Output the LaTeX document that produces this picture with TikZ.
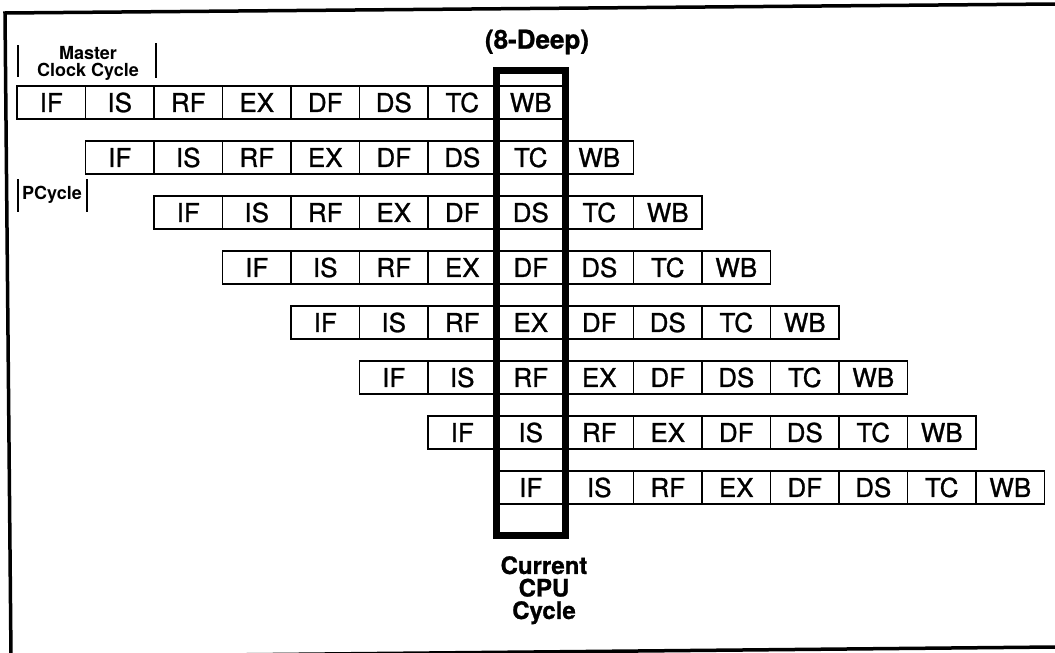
\documentclass[tikz,border=0pt]{standalone}
\usepackage{fontspec}
\setsansfont{TeX Gyre Heros}
\newfontfamily\stagefont[FakeBold=1]{TeX Gyre Heros}

\begin{document}
\begin{tikzpicture}[x=1pt,y=1pt]
\tikzset{
  cellbox/.style={rectangle,draw=black,line width=1.8pt,minimum width=68.5pt,minimum height=33pt,inner sep=0pt,font=\stagefont\fontsize{26}{26}\selectfont},
  cpuwindow/.style={rectangle,draw=black,line width=7pt,minimum width=68.5pt,minimum height=464.5pt,inner sep=0pt},
  headlabel/.style={inner sep=0pt,font=\stagefont\bfseries\fontsize{26}{26}\selectfont},
  footlabel/.style={inner sep=0pt,align=center,font=\stagefont\bfseries\fontsize{24}{22.5}\selectfont},
  smalllabel/.style={inner sep=0pt,align=center,font=\sffamily\bfseries\fontsize{18}{17}\selectfont},
  tickbar/.style={draw=black,line width=2pt},
  frameline/.style={draw=black,line width=3.5pt,line join=miter}
}
\useasboundingbox (0,0) rectangle (1055,-653);
\draw[frameline] (1055,-4) -- (5,-13) -- (11,-657) -- (1055,-647);
% row 1
\node[cellbox] (n_1IF) at (51.25,-102.5) {IF};
\node[cellbox] (n_1IS) at (119.75,-102.5) {IS};
\node[cellbox] (n_1RF) at (188.25,-102.5) {RF};
\node[cellbox] (n_1EX) at (256.75,-102.5) {EX};
\node[cellbox] (n_1DF) at (325.25,-102.5) {DF};
\node[cellbox] (n_1DS) at (393.75,-102.5) {DS};
\node[cellbox] (n_1TC) at (462.25,-102.5) {TC};
\node[cellbox] (n_1WB) at (530.75,-102.5) {WB};
% row 2
\node[cellbox] (n_2IF) at (119.75,-157.5) {IF};
\node[cellbox] (n_2IS) at (188.25,-157.5) {IS};
\node[cellbox] (n_2RF) at (256.75,-157.5) {RF};
\node[cellbox] (n_2EX) at (325.25,-157.5) {EX};
\node[cellbox] (n_2DF) at (393.75,-157.5) {DF};
\node[cellbox] (n_2DS) at (462.25,-157.5) {DS};
\node[cellbox] (n_2TC) at (530.75,-157.5) {TC};
\node[cellbox] (n_2WB) at (599.25,-157.5) {WB};
% row 3
\node[cellbox] (n_3IF) at (188.25,-212.5) {IF};
\node[cellbox] (n_3IS) at (256.75,-212.5) {IS};
\node[cellbox] (n_3RF) at (325.25,-212.5) {RF};
\node[cellbox] (n_3EX) at (393.75,-212.5) {EX};
\node[cellbox] (n_3DF) at (462.25,-212.5) {DF};
\node[cellbox] (n_3DS) at (530.75,-212.5) {DS};
\node[cellbox] (n_3TC) at (599.25,-212.5) {TC};
\node[cellbox] (n_3WB) at (667.75,-212.5) {WB};
% row 4
\node[cellbox] (n_4IF) at (256.75,-267.5) {IF};
\node[cellbox] (n_4IS) at (325.25,-267.5) {IS};
\node[cellbox] (n_4RF) at (393.75,-267.5) {RF};
\node[cellbox] (n_4EX) at (462.25,-267.5) {EX};
\node[cellbox] (n_4DF) at (530.75,-267.5) {DF};
\node[cellbox] (n_4DS) at (599.25,-267.5) {DS};
\node[cellbox] (n_4TC) at (667.75,-267.5) {TC};
\node[cellbox] (n_4WB) at (736.25,-267.5) {WB};
% row 5
\node[cellbox] (n_5IF) at (325.25,-322.5) {IF};
\node[cellbox] (n_5IS) at (393.75,-322.5) {IS};
\node[cellbox] (n_5RF) at (462.25,-322.5) {RF};
\node[cellbox] (n_5EX) at (530.75,-322.5) {EX};
\node[cellbox] (n_5DF) at (599.25,-322.5) {DF};
\node[cellbox] (n_5DS) at (667.75,-322.5) {DS};
\node[cellbox] (n_5TC) at (736.25,-322.5) {TC};
\node[cellbox] (n_5WB) at (804.75,-322.5) {WB};
% row 6
\node[cellbox] (n_6IF) at (393.75,-377.5) {IF};
\node[cellbox] (n_6IS) at (462.25,-377.5) {IS};
\node[cellbox] (n_6RF) at (530.75,-377.5) {RF};
\node[cellbox] (n_6EX) at (599.25,-377.5) {EX};
\node[cellbox] (n_6DF) at (667.75,-377.5) {DF};
\node[cellbox] (n_6DS) at (736.25,-377.5) {DS};
\node[cellbox] (n_6TC) at (804.75,-377.5) {TC};
\node[cellbox] (n_6WB) at (873.25,-377.5) {WB};
% row 7
\node[cellbox] (n_7IF) at (462.25,-432.5) {IF};
\node[cellbox] (n_7IS) at (530.75,-432.5) {IS};
\node[cellbox] (n_7RF) at (599.25,-432.5) {RF};
\node[cellbox] (n_7EX) at (667.75,-432.5) {EX};
\node[cellbox] (n_7DF) at (736.25,-432.5) {DF};
\node[cellbox] (n_7DS) at (804.75,-432.5) {DS};
\node[cellbox] (n_7TC) at (873.25,-432.5) {TC};
\node[cellbox] (n_7WB) at (941.75,-432.5) {WB};
% row 8
\node[cellbox] (n_8IF) at (530.75,-487.5) {IF};
\node[cellbox] (n_8IS) at (599.25,-487.5) {IS};
\node[cellbox] (n_8RF) at (667.75,-487.5) {RF};
\node[cellbox] (n_8EX) at (736.25,-487.5) {EX};
\node[cellbox] (n_8DF) at (804.75,-487.5) {DF};
\node[cellbox] (n_8DS) at (873.25,-487.5) {DS};
\node[cellbox] (n_8TC) at (941.75,-487.5) {TC};
\node[cellbox] (n_8WB) at (1010.25,-487.5) {WB};
% current cycle window and its labels
\node[cpuwindow] (n_cur) at (530.75,-302.75) {};
\node[headlabel] (n_deep) at (537,-42) {(8-Deep)};
\node[footlabel,anchor=north] (n_cpu) at (544,-556) {Current\\CPU\\Cycle};
% clock marks
\node[smalllabel,anchor=north] (n_master) at (88,-46) {Master\\Clock Cycle};
\draw[tickbar] (18,-45) -- (18,-77);
\draw[tickbar] (156,-43) -- (156,-78);
\node[smalllabel] (n_pcycle) at (52,-195) {PCycle};
\draw[tickbar] (18,-179) -- (18,-212);
\draw[tickbar] (87,-179) -- (87,-212);
\end{tikzpicture}
\end{document}
